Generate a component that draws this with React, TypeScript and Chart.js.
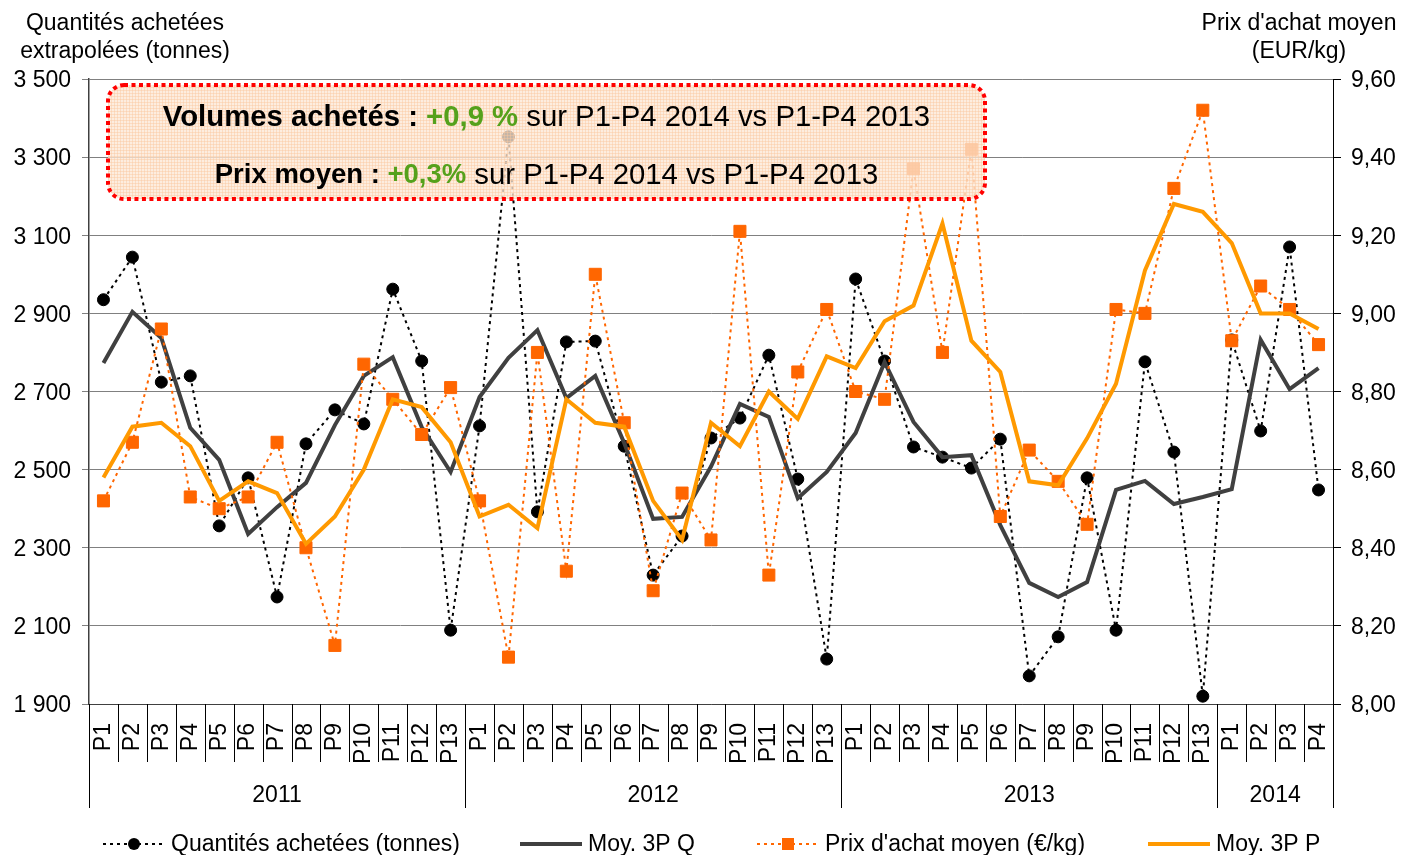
import React, { useEffect, useRef } from 'react';
import { Chart, registerables } from 'chart.js';

Chart.register(...registerables);

const FONT = '"Liberation Sans", Arial, sans-serif';

const periodLabels = [
  'P1', 'P2', 'P3', 'P4', 'P5', 'P6', 'P7', 'P8', 'P9', 'P10', 'P11', 'P12', 'P13',
  'P1', 'P2', 'P3', 'P4', 'P5', 'P6', 'P7', 'P8', 'P9', 'P10', 'P11', 'P12', 'P13',
  'P1', 'P2', 'P3', 'P4', 'P5', 'P6', 'P7', 'P8', 'P9', 'P10', 'P11', 'P12', 'P13',
  'P1', 'P2', 'P3', 'P4',
];

const yearLabels = ['2011', '2012', '2013', '2014'];
const yearCounts = [13, 13, 13, 4];

const quantites = [
  2935, 3044, 2724, 2740, 2356, 2479, 2174, 2566, 2653, 2617, 2962, 2778, 2089,
  2612, 3352, 2392, 2827, 2829, 2560, 2230, 2330, 2581, 2632, 2793, 2476, 2015,
  2988, 2778, 2558, 2532, 2504, 2578, 1972, 2072, 2479, 2089, 2776, 2545, 1920,
  2832, 2599, 3070, 2448,
];

const moyQ = [
  2773, 2904, 2837, 2607, 2525, 2335, 2404, 2466, 2614, 2740, 2788, 2609, 2494,
  2686, 2786, 2857, 2683, 2740, 2568, 2374, 2379, 2508, 2668, 2635, 2427, 2494,
  2594, 2775, 2622, 2532, 2537, 2358, 2210, 2174, 2212, 2448, 2471, 2412, 2430,
  2450, 2832, 2706, 2760,
];

const prix = [
  8.52, 8.67, 8.96, 8.53, 8.50, 8.53, 8.67, 8.40, 8.15, 8.87, 8.78, 8.69, 8.81,
  8.52, 8.12, 8.90, 8.34, 9.10, 8.72, 8.29, 8.54, 8.42, 9.21, 8.33, 8.85, 9.01,
  8.80, 8.78, 9.37, 8.90, 9.42, 8.48, 8.65, 8.57, 8.46, 9.01, 9.00, 9.32, 9.52,
  8.93, 9.07, 9.01, 8.92,
];

const moyP = [
  8.58, 8.71, 8.72, 8.66, 8.52, 8.57, 8.54, 8.41, 8.48, 8.60, 8.78, 8.76, 8.67,
  8.48, 8.51, 8.45, 8.78, 8.72, 8.71, 8.52, 8.42, 8.72, 8.66, 8.80, 8.73, 8.89,
  8.86, 8.98, 9.02, 9.23, 8.93, 8.85, 8.57, 8.56, 8.68, 8.82, 9.11, 9.28, 9.26,
  9.18, 9.00, 9.00, 8.96,
];

const seriesNames = ['Quantités achetées (tonnes)', 'Moy. 3P Q', "Prix d'achat moyen (€/kg)", 'Moy. 3P P'];

const leftTitle = ['Quantités achetées', 'extrapolées (tonnes)'];
const rightTitle = ["Prix d'achat moyen", '(EUR/kg)'];

const boxLine1 = [
  { t: 'Volumes achetés : ', bold: true, green: false, size: 29.3 },
  { t: '+0,9 %', bold: true, green: true, size: 29.3 },
  { t: ' sur P1-P4 2014 vs P1-P4 2013', bold: false, green: false, size: 29.3 },
];
const boxLine2 = [
  { t: 'Prix moyen : ', bold: true, green: false, size: 27.5 },
  { t: '+0,3%', bold: true, green: true, size: 27.5 },
  { t: ' sur P1-P4 2014 vs P1-P4 2013', bold: false, green: false, size: 29.3 },
];

const BLACK = '#000000';
const DARK = '#404040';
const ORANGE_PT = '#ff6600';
const ORANGE_LINE = '#ff9900';
const GREEN = '#55a11c';

function fmtThousands(v: number) {
  const s = String(Math.round(v));
  return s.replace(/\B(?=(\d{3})+(?!\d))/g, ' ');
}

function drawSegments(ctx: CanvasRenderingContext2D, segs: any[], cx: number, cy: number) {
  let total = 0;
  const widths: number[] = [];
  segs.forEach((s) => {
    ctx.font = `${s.bold ? 'bold ' : ''}${s.size}px ${FONT}`;
    const w = ctx.measureText(s.t).width;
    widths.push(w);
    total += w;
  });
  let x = cx - total / 2;
  ctx.textBaseline = 'middle';
  ctx.textAlign = 'left';
  segs.forEach((s, i) => {
    ctx.font = `${s.bold ? 'bold ' : ''}${s.size}px ${FONT}`;
    ctx.fillStyle = s.green ? GREEN : '#000';
    ctx.fillText(s.t, x, cy);
    x += widths[i];
  });
}

const overlayPlugin = {
  id: 'overlay',
  afterDatasetsDraw(chart: any) {
    const ctx: CanvasRenderingContext2D = chart.ctx;
    const bx = 108, by = 85, bw = 877, bh = 114;
    ctx.save();
    const tile = document.createElement('canvas');
    tile.width = 3;
    tile.height = 3;
    const tctx = tile.getContext('2d')!;
    tctx.fillStyle = 'rgba(253, 232, 214, 0.78)';
    tctx.fillRect(0, 0, 3, 3);
    tctx.fillStyle = 'rgba(250, 200, 160, 0.45)';
    tctx.fillRect(0, 0, 3, 1);
    tctx.fillRect(0, 0, 1, 3);
    const pattern = ctx.createPattern(tile, 'repeat');
    ctx.beginPath();
    (ctx as any).roundRect(bx, by, bw, bh, 16);
    ctx.fillStyle = pattern || 'rgba(253,225,200,0.7)';
    ctx.fill();
    ctx.setLineDash([4, 3.5]);
    ctx.lineWidth = 4;
    ctx.strokeStyle = '#ff0000';
    ctx.stroke();
    ctx.setLineDash([]);
    drawSegments(ctx, boxLine1, bx + bw / 2, 118);
    drawSegments(ctx, boxLine2, bx + bw / 2, 175.5);
    ctx.restore();
  },
  afterDraw(chart: any) {
    const ctx: CanvasRenderingContext2D = chart.ctx;
    const area = chart.chartArea;
    const n = periodLabels.length;
    const cw = (area.right - area.left) / n;
    ctx.save();
    const groupStarts = new Set<number>();
    let acc = 0;
    groupStarts.add(0);
    yearCounts.forEach((c) => { acc += c; groupStarts.add(acc); });
    ctx.strokeStyle = '#000';
    ctx.lineWidth = 1;
    for (let i = 0; i <= n; i++) {
      const x = Math.round(area.left + i * cw) + 0.5;
      const long = groupStarts.has(i);
      ctx.beginPath();
      ctx.moveTo(x, area.bottom);
      ctx.lineTo(x, long ? area.bottom + 104 : area.bottom + 58);
      ctx.stroke();
    }
    ctx.fillStyle = '#000';
    ctx.font = `23px ${FONT}`;
    ctx.textAlign = 'center';
    ctx.textBaseline = 'middle';
    let start = 0;
    yearLabels.forEach((y, k) => {
      const c = yearCounts[k];
      const cx = area.left + (start + c / 2) * cw;
      ctx.fillText(y, cx, area.bottom + 92);
      start += c;
    });
    ctx.font = `23px ${FONT}`;
    ctx.fillText(leftTitle[0], 125, 24);
    ctx.fillText(leftTitle[1], 125, 52);
    ctx.fillText(rightTitle[0], 1299, 24);
    ctx.fillText(rightTitle[1], 1299, 52);

    const ly = 844;
    const items = [
      { x: 103, kind: 'dotBlack' },
      { x: 520, kind: 'lineDark' },
      { x: 757, kind: 'dotOrange' },
      { x: 1148, kind: 'lineOrange' },
    ];
    items.forEach((it, k) => {
      const x0 = it.x, x1 = it.x + 62;
      ctx.beginPath();
      ctx.moveTo(x0, ly);
      ctx.lineTo(x1, ly);
      if (it.kind === 'dotBlack') {
        ctx.strokeStyle = BLACK; ctx.lineWidth = 2; ctx.setLineDash([3, 4]);
      } else if (it.kind === 'dotOrange') {
        ctx.strokeStyle = ORANGE_PT; ctx.lineWidth = 2; ctx.setLineDash([3, 4]);
      } else if (it.kind === 'lineDark') {
        ctx.strokeStyle = DARK; ctx.lineWidth = 4; ctx.setLineDash([]);
      } else {
        ctx.strokeStyle = ORANGE_LINE; ctx.lineWidth = 4; ctx.setLineDash([]);
      }
      ctx.stroke();
      ctx.setLineDash([]);
      const mx = (x0 + x1) / 2;
      if (it.kind === 'dotBlack') {
        ctx.beginPath();
        ctx.arc(mx, ly, 6, 0, Math.PI * 2);
        ctx.fillStyle = BLACK;
        ctx.fill();
      } else if (it.kind === 'dotOrange') {
        ctx.fillStyle = ORANGE_PT;
        ctx.fillRect(mx - 6, ly - 6, 12, 12);
      }
      ctx.fillStyle = '#000';
      ctx.font = `23px ${FONT}`;
      ctx.textAlign = 'left';
      ctx.textBaseline = 'middle';
      ctx.fillText(seriesNames[k], x1 + 6, ly + 1);
    });
    ctx.restore();
  },
};

export default function App() {
  const ref = useRef<HTMLCanvasElement>(null);
  useEffect(() => {
    if (!ref.current) return;
    const chart = new Chart(ref.current, {
      type: 'line',
      data: {
        labels: periodLabels,
        datasets: [
          {
            label: seriesNames[0],
            data: quantites,
            yAxisID: 'y',
            borderColor: BLACK,
            borderWidth: 2,
            borderDash: [3, 4],
            pointStyle: 'circle',
            pointRadius: 6,
            pointBackgroundColor: BLACK,
            pointBorderColor: BLACK,
            pointBorderWidth: 1,
            tension: 0,
            order: 4,
          },
          {
            label: seriesNames[1],
            data: moyQ,
            yAxisID: 'y',
            borderColor: DARK,
            borderWidth: 4,
            pointRadius: 0,
            tension: 0,
            order: 3,
          },
          {
            label: seriesNames[2],
            data: prix,
            yAxisID: 'y1',
            borderColor: ORANGE_PT,
            borderWidth: 2,
            borderDash: [3, 4],
            pointStyle: 'rect',
            pointRadius: 8.5,
            pointBackgroundColor: ORANGE_PT,
            pointBorderColor: ORANGE_PT,
            pointBorderWidth: 1,
            tension: 0,
            order: 2,
          },
          {
            label: seriesNames[3],
            data: moyP,
            yAxisID: 'y1',
            borderColor: ORANGE_LINE,
            borderWidth: 4,
            pointRadius: 0,
            tension: 0,
            order: 1,
          },
        ],
      },
      options: {
        responsive: false,
        animation: false,
        devicePixelRatio: 1,
        layout: { padding: { top: 79, left: 0, right: 0, bottom: 0 } },
        plugins: {
          legend: { display: false },
          tooltip: { enabled: false },
          title: { display: false },
        },
        scales: {
          x: {
            type: 'category',
            offset: true,
            grid: { display: false, drawTicks: false },
            border: { display: true, color: DARK, width: 1 },
            ticks: {
              autoSkip: false,
              maxRotation: 90,
              minRotation: 90,
              padding: 19,
              color: '#000',
              font: { family: FONT, size: 23 },
            },
            afterFit: (s: any) => { s.height = 151; },
          },
          y: {
            position: 'left',
            min: 1900,
            max: 3500,
            ticks: {
              stepSize: 200,
              padding: 11,
              labelOffset: 2,
              color: '#000',
              font: { family: FONT, size: 23 },
              callback: (v: any) => fmtThousands(Number(v)),
            },
            grid: { color: '#808080', lineWidth: 1, tickLength: 7 },
            border: { display: true, color: DARK, width: 1.5 },
            afterFit: (s: any) => { s.width = 89; },
          },
          y1: {
            position: 'right',
            min: 8,
            max: 9.6,
            ticks: {
              stepSize: 0.2,
              padding: 10,
              labelOffset: 2,
              color: '#000',
              font: { family: FONT, size: 23 },
              callback: (v: any) => Number(v).toFixed(2).replace('.', ','),
            },
            grid: { drawOnChartArea: false, color: '#000', tickLength: 8 },
            border: { display: true, color: '#000', width: 1 },
            afterFit: (s: any) => { s.width = 69; },
          },
        },
      },
      plugins: [overlayPlugin],
    });
    return () => chart.destroy();
  }, []);
  return (
    <div style={{ position: 'absolute', left: 0, top: 0, width: 1402, height: 855, background: '#fff' }}>
      <canvas ref={ref} width={1402} height={855} style={{ width: 1402, height: 855, display: 'block' }} />
    </div>
  );
}
